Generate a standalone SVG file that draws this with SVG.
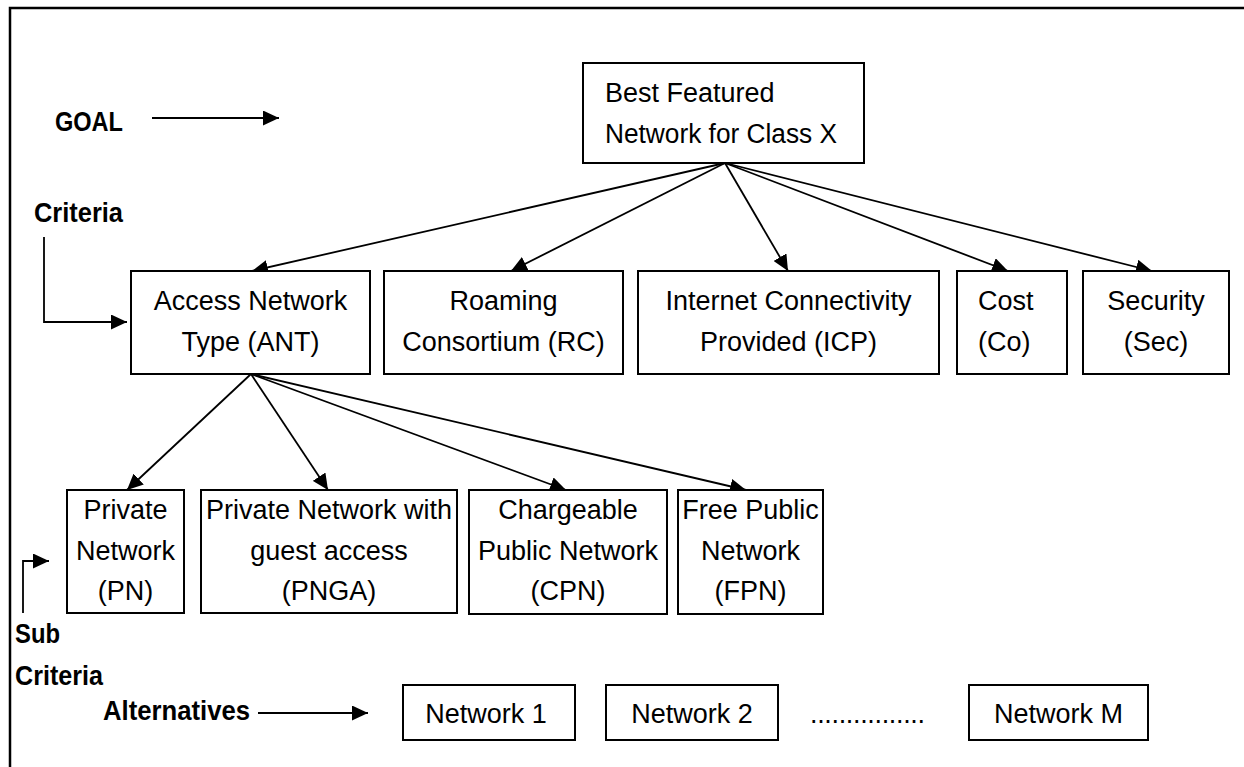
<svg xmlns="http://www.w3.org/2000/svg" width="1244" height="767" viewBox="0 0 1244 767">
<defs>
<marker id="ah" markerUnits="userSpaceOnUse" markerWidth="17" markerHeight="15" refX="16" refY="7.5" orient="auto">
<path d="M0,0 L16,7.5 L0,15 z" fill="#000"/>
</marker>
<style>
.box{fill:#fff;stroke:#000;stroke-width:2}
.t{font-family:"Liberation Sans",Arial,sans-serif;font-size:27px;fill:#000}
.c{text-anchor:middle}
.b{font-family:"Liberation Sans",Arial,sans-serif;font-size:28px;font-weight:bold;fill:#000}
.ln{stroke:#000;stroke-width:1.8;fill:none}
.frame{stroke:#000;stroke-width:2.5;fill:none}
</style>
</defs>
<rect width="1244" height="767" fill="#fff"/>
<path class="frame" d="M10,767 L10,8 L1244,8"/>

<g id="labels">
<text class="b" x="55" y="131" textLength="68" lengthAdjust="spacingAndGlyphs">GOAL</text>
<text class="b" x="34" y="222" textLength="89" lengthAdjust="spacingAndGlyphs">Criteria</text>
<text class="b" x="15" y="643" textLength="45" lengthAdjust="spacingAndGlyphs">Sub</text>
<text class="b" x="15" y="685" textLength="88" lengthAdjust="spacingAndGlyphs">Criteria</text>
<text class="b" x="103" y="720" textLength="147" lengthAdjust="spacingAndGlyphs">Alternatives</text>
</g>

<g id="connectors">
<line class="ln" x1="152" y1="118" x2="279" y2="118" marker-end="url(#ah)"/>
<path class="ln" d="M44,237 L44,322 L127,322" marker-end="url(#ah)"/>
<path class="ln" d="M23,613 L23,561 L49,561" marker-end="url(#ah)"/>
<line class="ln" x1="258" y1="713" x2="368" y2="713" marker-end="url(#ah)"/>
<line class="ln" x1="725" y1="163" x2="252" y2="271" marker-end="url(#ah)"/>
<line class="ln" x1="725" y1="163" x2="511" y2="271" marker-end="url(#ah)"/>
<line class="ln" x1="725" y1="163" x2="788" y2="271" marker-end="url(#ah)"/>
<line class="ln" x1="725" y1="163" x2="1008" y2="271" marker-end="url(#ah)"/>
<line class="ln" x1="725" y1="163" x2="1152" y2="271" marker-end="url(#ah)"/>
<line class="ln" x1="251" y1="374" x2="127" y2="490" marker-end="url(#ah)"/>
<line class="ln" x1="251" y1="374" x2="328" y2="490" marker-end="url(#ah)"/>
<line class="ln" x1="251" y1="374" x2="566" y2="490" marker-end="url(#ah)"/>
<line class="ln" x1="251" y1="374" x2="746" y2="490" marker-end="url(#ah)"/>
</g>

<g id="goal">
<rect class="box" x="583" y="63" width="281" height="100"/>
<text class="t" x="605" y="102">Best Featured</text>
<text class="t" x="605" y="143" textLength="232" lengthAdjust="spacingAndGlyphs">Network for Class X</text>
</g>

<g id="ant">
<rect class="box" x="131" y="271" width="239" height="103"/>
<text class="t c" x="250.5" y="310">Access Network</text>
<text class="t c" x="250.5" y="351">Type (ANT)</text>
</g>
<g id="rc">
<rect class="box" x="384" y="271" width="239" height="103"/>
<text class="t c" x="503.5" y="310">Roaming</text>
<text class="t c" x="503.5" y="351">Consortium (RC)</text>
</g>
<g id="icp">
<rect class="box" x="638" y="271" width="301" height="103"/>
<text class="t c" x="788.5" y="310">Internet Connectivity</text>
<text class="t c" x="788.5" y="351">Provided (ICP)</text>
</g>
<g id="co">
<rect class="box" x="957" y="271" width="110" height="103"/>
<text class="t" x="978" y="310">Cost</text>
<text class="t" x="978" y="351">(Co)</text>
</g>
<g id="sec">
<rect class="box" x="1083" y="271" width="146" height="103"/>
<text class="t c" x="1156" y="310">Security</text>
<text class="t c" x="1156" y="351">(Sec)</text>
</g>

<g id="pn">
<rect class="box" x="67" y="490" width="117" height="123"/>
<text class="t c" x="125.5" y="519">Private</text>
<text class="t c" x="125.5" y="560">Network</text>
<text class="t c" x="125.5" y="600">(PN)</text>
</g>
<g id="pnga">
<rect class="box" x="201" y="490" width="256" height="123"/>
<text class="t c" x="329" y="519">Private Network with</text>
<text class="t c" x="329" y="560">guest access</text>
<text class="t c" x="329" y="600">(PNGA)</text>
</g>
<g id="cpn">
<rect class="box" x="469" y="490" width="198" height="124"/>
<text class="t c" x="568" y="519">Chargeable</text>
<text class="t c" x="568" y="560">Public Network</text>
<text class="t c" x="568" y="600">(CPN)</text>
</g>
<g id="fpn">
<rect class="box" x="678" y="490" width="145" height="124"/>
<text class="t c" x="750.5" y="519">Free Public</text>
<text class="t c" x="750.5" y="560">Network</text>
<text class="t c" x="750.5" y="600">(FPN)</text>
</g>

<g id="net1">
<rect class="box" x="403" y="685" width="172" height="55"/>
<text class="t c" x="486" y="723">Network 1</text>
</g>
<g id="net2">
<rect class="box" x="606" y="685" width="172" height="55"/>
<text class="t c" x="692" y="723">Network 2</text>
</g>
<g id="dots">
<text class="t" x="810" y="723" textLength="115" lengthAdjust="spacing">................</text>
</g>
<g id="netm">
<rect class="box" x="969" y="685" width="179" height="55"/>
<text class="t c" x="1058.5" y="723">Network M</text>
</g>
</svg>
